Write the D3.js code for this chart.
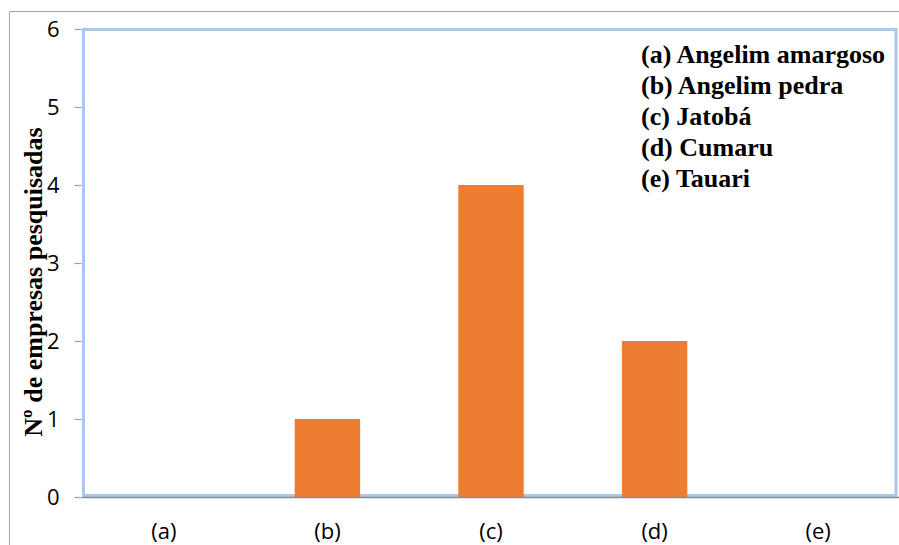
<!DOCTYPE html>
<html>
<head>
<meta charset="utf-8">
<script src="https://cdn.jsdelivr.net/npm/d3@7"></script>
<style>
  html, body { margin: 0; padding: 0; background: #fff; }
  svg { display: block; }
</style>
</head>
<body>
<svg id="chart" width="899" height="545"></svg>
<script>
// Species codes on the x axis and number of surveyed companies per species
const categories = ["(a)", "(b)", "(c)", "(d)", "(e)"];
const companies = [0, 1, 4, 2, 0];
const yTicks = [0, 1, 2, 3, 4, 5, 6];
const legendLines = [
  "(a) Angelim amargoso",
  "(b) Angelim pedra",
  "(c) Jatobá",
  "(d) Cumaru",
  "(e) Tauari"
];
const yTitle = "Nº de empresas pesquisadas";

const svg = d3.select("#chart");
const W = 899, H = 545;
const plot = { left: 82, right: 900, top: 29, bottom: 497 };
const serif = "'Times New Roman', 'Liberation Serif', serif";
const sans = "'Open Sans', 'Liberation Sans', sans-serif";

const x = d3.scaleBand()
  .domain(categories)
  .range([plot.left, plot.right])
  .paddingInner(0.6)
  .paddingOuter(0.3);

const y = d3.scaleLinear()
  .domain([0, 6])
  .range([plot.bottom, plot.top]);

// outer frame (top and left edges visible)
svg.append("path")
  .attr("d", `M9.5,${H} V11.5 H${W}`)
  .attr("fill", "none")
  .attr("stroke", "#a6a6a6")
  .attr("stroke-width", 1);

// gradient used for the vertical axis line
const defs = svg.append("defs");
const grad = defs.append("linearGradient")
  .attr("id", "axisGrad")
  .attr("x1", 0).attr("y1", 0).attr("x2", 0).attr("y2", 1);
grad.append("stop").attr("offset", "0%").attr("stop-color", "#b4c7e7");
grad.append("stop").attr("offset", "35%").attr("stop-color", "#6d7c8f");
grad.append("stop").attr("offset", "60%").attr("stop-color", "#3b3f45");
grad.append("stop").attr("offset", "100%").attr("stop-color", "#b0b8c4");

// plot area border
svg.append("rect")
  .attr("x", plot.left + 1.5)
  .attr("y", plot.top + 0.5)
  .attr("width", 896 - plot.left - 1.5)
  .attr("height", plot.bottom - plot.top - 2)
  .attr("fill", "none")
  .attr("stroke", "#a9c8ee")
  .attr("stroke-width", 3);

// bars
svg.append("g")
  .selectAll("rect")
  .data(categories.map((c, i) => ({ c, v: companies[i] })))
  .join("rect")
  .attr("x", d => x(d.c))
  .attr("y", d => y(d.v))
  .attr("width", x.bandwidth())
  .attr("height", d => y(0) - y(d.v))
  .attr("fill", "#ed7d31");

// y axis
const yAxis = d3.axisLeft(y)
  .tickValues(yTicks)
  .tickSize(7)
  .tickPadding(15)
  .tickFormat(d3.format("d"));

const gy = svg.append("g")
  .attr("transform", `translate(${plot.left - 0.5},0)`)
  .call(yAxis);
gy.select(".domain").remove();
gy.selectAll(".tick line").attr("stroke", "#a0a0a0").attr("stroke-width", 1.2);
gy.selectAll(".tick text")
  .attr("font-family", sans)
  .attr("font-size", 22)
  .attr("fill", "#000")
  .attr("dy", "0.36em");

svg.append("line")
  .attr("x1", plot.left).attr("x2", plot.left)
  .attr("y1", plot.top - 2).attr("y2", plot.bottom + 1)
  .attr("stroke", "url(#axisGrad)")
  .attr("stroke-width", 3);

// x axis
const xAxis = d3.axisBottom(x).tickSize(0).tickPadding(26);
const gx = svg.append("g")
  .attr("transform", `translate(0,${plot.bottom})`)
  .call(xAxis);
gx.select(".domain")
  .attr("d", `M${plot.left},0.5H${W}`)
  .attr("stroke", "#8c8c8c")
  .attr("stroke-width", 1.5);
gx.selectAll(".tick text")
  .attr("font-family", sans)
  .attr("font-size", 22)
  .attr("fill", "#000");

// y axis title
svg.append("text")
  .attr("transform", `translate(42,${(123 + 441) / 2}) rotate(-90)`)
  .attr("text-anchor", "middle")
  .attr("font-family", serif)
  .attr("font-weight", "bold")
  .attr("font-size", 26)
  .attr("fill", "#000")
  .text(yTitle);

// species key
svg.append("g")
  .selectAll("text")
  .data(legendLines)
  .join("text")
  .attr("x", 641)
  .attr("y", (d, i) => 63 + i * 31)
  .attr("font-family", serif)
  .attr("font-weight", "bold")
  .attr("font-size", 26)
  .attr("fill", "#000")
  .text(d => d);
</script>
</body>
</html>
